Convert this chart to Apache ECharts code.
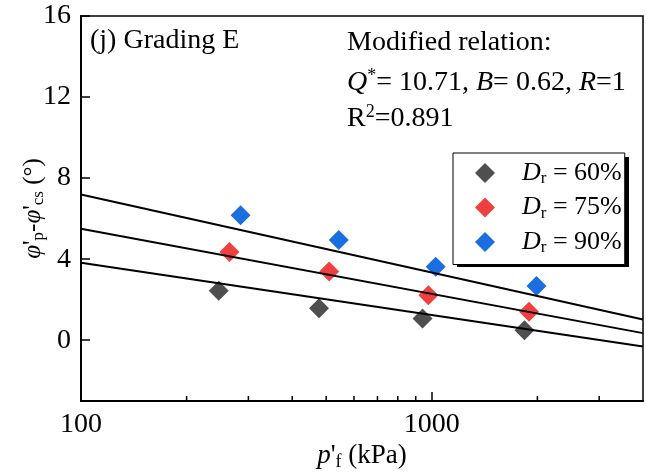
<!DOCTYPE html>
<html><head><meta charset="utf-8">
<script src="https://cdn.jsdelivr.net/npm/echarts@6/dist/echarts.min.js"></script>
<style>html,body{margin:0;padding:0;background:#fff}#c{width:646px;height:475px}</style>
</head><body><div id="c"></div>
<script>
// ---- data ----
const seriesNames = ['Dr = 60%', 'Dr = 75%', 'Dr = 90%'];
const pressure60 = [247, 477, 941, 1837];
const phi60 = [2.44, 1.58, 1.07, 0.49];
const pressure75 = [265, 510, 978, 1893];
const phi75 = [4.35, 3.39, 2.22, 1.40];
const pressure90 = [285, 543, 1026, 1988];
const phi90 = [6.17, 4.94, 3.62, 2.68];
const fitPressure = [100, 4000];
const fit60 = [3.82, -0.31];
const fit75 = [5.50, 0.35];
const fit90 = [7.19, 1.02];
const xMinorTicks = [200, 300, 400, 500, 600, 700, 800, 900, 2000, 3000];
const yTickValues = [0, 4, 8, 12, 16];

const FONT = 'Liberation Serif';
const colors = ['#4f4f4f', '#ef4040', '#1b6ee0'];
const yMin = -3, yMax = 16;

function zip(a, b) { return a.map((v, i) => [v, b[i]]); }

const chart = echarts.init(document.getElementById('c'), null, {renderer: 'canvas'});

const richX = {
  i: {fontFamily: FONT, fontSize: 27, fontStyle: 'italic', color: '#000'},
  n: {fontFamily: FONT, fontSize: 27, color: '#000'},
  s: {fontFamily: FONT, fontSize: 18, color: '#000', padding: [12, 0, 0, 0]}
};
const richY = {
  i: {fontFamily: FONT, fontSize: 25, fontStyle: 'italic', color: '#000'},
  n: {fontFamily: FONT, fontSize: 25, color: '#000'},
  s: {fontFamily: FONT, fontSize: 17, color: '#000', padding: [11, 0, 0, 0]}
};

const scatterData = [zip(pressure60, phi60), zip(pressure75, phi75), zip(pressure90, phi90)];
const fitData = [zip(fitPressure, fit60), zip(fitPressure, fit75), zip(fitPressure, fit90)];

const series = [];
scatterData.forEach((d, k) => {
  series.push({
    name: seriesNames[k], type: 'scatter', data: d,
    symbol: 'diamond', symbolSize: 20,
    itemStyle: {color: colors[k], opacity: 1}, z: 2
  });
});
fitData.forEach((d, k) => {
  series.push({
    name: 'fit' + k, type: 'line', data: d, showSymbol: false, symbol: 'none',
    lineStyle: {color: '#000', width: 2}, z: 3, silent: true
  });
});
series.push({
  name: 'minorTicks', type: 'custom', silent: true, z: 4,
  data: xMinorTicks.map(v => [v]),
  encode: {x: 0},
  renderItem: function (params, api) {
    const p = api.coord([api.value(0), yMin]);
    return {type: 'line', shape: {x1: p[0], y1: p[1], x2: p[0], y2: p[1] - 5},
      style: {stroke: '#000', lineWidth: 1.5}};
  }
});

chart.setOption({
  animation: false,
  backgroundColor: '#fff',
  grid: {left: 81, right: 3, top: 16, bottom: 74, show: true, containLabel: false,
    outerBoundsMode: 'none',
    borderColor: '#000', borderWidth: 1.5, backgroundColor: 'transparent'},
  xAxis: {
    type: 'log', logBase: 10, min: 100, max: 4000,
    name: '{i|p}{n|\'}{s|f}{n| (kPa)}', nameLocation: 'middle', nameGap: 40,
    nameMoveOverlap: false,
    nameTextStyle: {rich: richX},
    axisLine: {show: true, onZero: false, lineStyle: {color: '#000', width: 2}},
    axisTick: {show: true, inside: true, length: 9, lineStyle: {color: '#000', width: 1.5}},
    axisLabel: {show: true, showMaxLabel: false, margin: 10, color: '#000',
      fontFamily: FONT, fontSize: 28, formatter: function (v) { return String(Math.round(v)); }},
    splitLine: {show: false}, minorTick: {show: false}, minorSplitLine: {show: false}
  },
  yAxis: {
    type: 'value', min: yMin, max: yMax,
    name: '{i|φ}{n|\'}{s|p}{n|-}{i|φ}{n|\'}{s|cs}{n| (°)}', nameLocation: 'middle',
    nameRotate: 90, nameGap: 34, nameMoveOverlap: false,
    nameTextStyle: {rich: richY},
    axisLine: {show: true, onZero: false, lineStyle: {color: '#000', width: 2}},
    axisTick: {show: true, inside: true, length: 9, customValues: yTickValues,
      lineStyle: {color: '#000', width: 1.5}},
    axisLabel: {show: true, customValues: yTickValues, margin: 10, color: '#000',
      fontFamily: FONT, fontSize: 28},
    splitLine: {show: false}
  },
  legend: {
    data: seriesNames, orient: 'vertical', left: 453, top: 153, z: 10,
    icon: 'diamond', itemWidth: 20, itemHeight: 20, itemGap: 7,
    padding: [7, 3, 8, 22],
    backgroundColor: '#fff', borderColor: '#000', borderWidth: 1,
    formatter: function (name) {
      return '{d|D}{s|r}{t| = ' + name.split('= ')[1] + '}';
    },
    textStyle: {rich: {
      d: {fontFamily: FONT, fontSize: 26, fontStyle: 'italic', color: '#000', padding: [0, 0, 0, 22]},
      s: {fontFamily: FONT, fontSize: 17, color: '#000', padding: [12, 0, 0, 0]},
      t: {fontFamily: FONT, fontSize: 26, color: '#000'}
    }}
  },
  graphic: [
    {type: 'rect', z: 5, shape: {x: 457, y: 157, width: 172, height: 110},
      style: {fill: '#000'}},
    {type: 'text', x: 90, y: 41, style: {text: '(j) Grading E', fontFamily: FONT,
      fontSize: 28, fill: '#000', verticalAlign: 'middle', align: 'left'}},
    {type: 'text', x: 347, y: 43, style: {text: 'Modified relation:', fontFamily: FONT,
      fontSize: 28, fill: '#000', verticalAlign: 'middle', align: 'left'}},
    {type: 'text', x: 347, y: 83, style: {
      text: '{i|Q}{sup|*}{n|= 10.71, }{i|B}{n|= 0.62, }{i|R}{n|=1}',
      verticalAlign: 'middle', align: 'left',
      rich: {
        i: {fontFamily: FONT, fontSize: 28, fontStyle: 'italic', fill: '#000'},
        n: {fontFamily: FONT, fontSize: 28, fill: '#000'},
        sup: {fontFamily: FONT, fontSize: 18, fill: '#000', padding: [0, 0, 14, 0]}
      }}},
    {type: 'text', x: 347, y: 119, style: {
      text: '{n|R}{sup|2}{n|=0.891}',
      verticalAlign: 'middle', align: 'left',
      rich: {
        n: {fontFamily: FONT, fontSize: 28, fill: '#000'},
        sup: {fontFamily: FONT, fontSize: 18, fill: '#000', padding: [0, 0, 14, 0]}
      }}}
  ],
  series: series
});
</script>
</body></html>
